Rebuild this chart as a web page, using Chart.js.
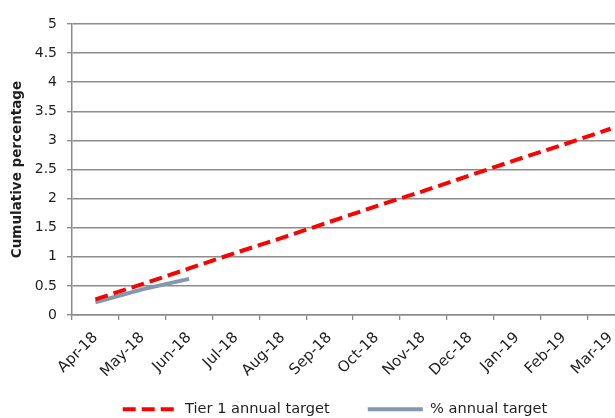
<!DOCTYPE html>
<html>
<head>
<meta charset="utf-8">
<script src="https://cdn.jsdelivr.net/npm/chart.js@4.4.1/dist/chart.umd.min.js"></script>
<style>
  html, body { margin: 0; padding: 0; background: #fff; overflow: hidden; }
</style>
</head>
<body>
<canvas id="chart" width="670" height="418"></canvas>
<script>
const months = ['Apr-18', 'May-18', 'Jun-18', 'Jul-18', 'Aug-18', 'Sep-18', 'Oct-18', 'Nov-18', 'Dec-18', 'Jan-19', 'Feb-19', 'Mar-19'];
const tierTarget = [0.27, 0.53, 0.8, 1.07, 1.33, 1.6, 1.87, 2.13, 2.4, 2.67, 2.93, 3.2];
const pctTarget = [0.22, 0.44, 0.62, null, null, null, null, null, null, null, null, null];
const yMin = 0, yMax = 5, yStep = 0.5;

const gridGrey = '#8c8c8c';
const textCol = '#1f1f1f';

// legend with pointStyle 'line' drops the dataset dash, so put it back
function legendItems(chart) {
    const items = Chart.defaults.plugins.legend.labels.generateLabels(chart);
    items.forEach(it => {
        it.lineDash = chart.data.datasets[it.datasetIndex].borderDash || [];
    });
    return items;
}

// the legend sits partly beside the rotated month labels, like the original,
// so after layout give it the bottom 54px of the canvas
const legendDrop = {
    id: 'legendDrop',
    afterLayout(chart) {
        const lg = chart.legend;
        lg.top = chart.height - 54;
        lg.bottom = chart.height;
        lg.height = 54;
    }
};

const ctx = document.getElementById('chart').getContext('2d');
new Chart(ctx, {
    type: 'line',
    data: {
        labels: months,
        datasets: [
            { label: 'Tier 1 annual target', data: tierTarget, borderColor: '#ff0000', borderWidth: 4,
              borderDash: [13, 6], pointRadius: 0, fill: false, tension: 0 },
            { label: '% annual target', data: pctTarget, borderColor: '#8497b0', borderWidth: 4,
              pointRadius: 0, fill: false, tension: 0 }
        ]
    },
    plugins: [legendDrop],
    options: {
        responsive: false,
        animation: false,
        layout: { padding: { top: 24, left: 8, right: 8, bottom: 0 } },
        plugins: {
            tooltip: { enabled: false },
            legend: {
                position: 'bottom',
                maxHeight: 23,
                labels: {
                    usePointStyle: true, pointStyle: 'line', pointStyleWidth: 55,
                    padding: 38, color: textCol,
                    generateLabels: legendItems,
                    font: { family: 'DejaVu Sans', size: 14.6 }
                }
            }
        },
        scales: {
            x: {
                offset: true,
                afterFit: s => { s.height = 80; },
                grid: { offset: true, drawOnChartArea: false, tickLength: 5, color: gridGrey, lineWidth: 1.3 },
                border: { color: gridGrey, width: 1.5 },
                ticks: { minRotation: 45, maxRotation: 45, padding: 9, color: textCol,
                         font: { family: 'DejaVu Sans', size: 15 } }
            },
            y: {
                min: yMin, max: yMax,
                afterFit: s => { s.width = 64; },
                grid: { color: gridGrey, lineWidth: 1.4, tickLength: 5 },
                border: { color: gridGrey, width: 1.5 },
                ticks: { stepSize: yStep, padding: 10, color: textCol,
                         callback: v => String(+v.toFixed(1)),
                         font: { family: 'DejaVu Sans', size: 14 } },
                title: { display: true, text: 'Cumulative percentage', color: textCol,
                         padding: { top: 1, bottom: 0 },
                         font: { family: 'DejaVu Sans', size: 13.5, weight: 'bold' } }
            },
            yRight: {
                position: 'right',
                afterFit: s => { s.width = 28; },
                grid: { display: false },
                border: { display: false },
                ticks: { display: false }
            }
        }
    }
});
</script>
</body>
</html>
